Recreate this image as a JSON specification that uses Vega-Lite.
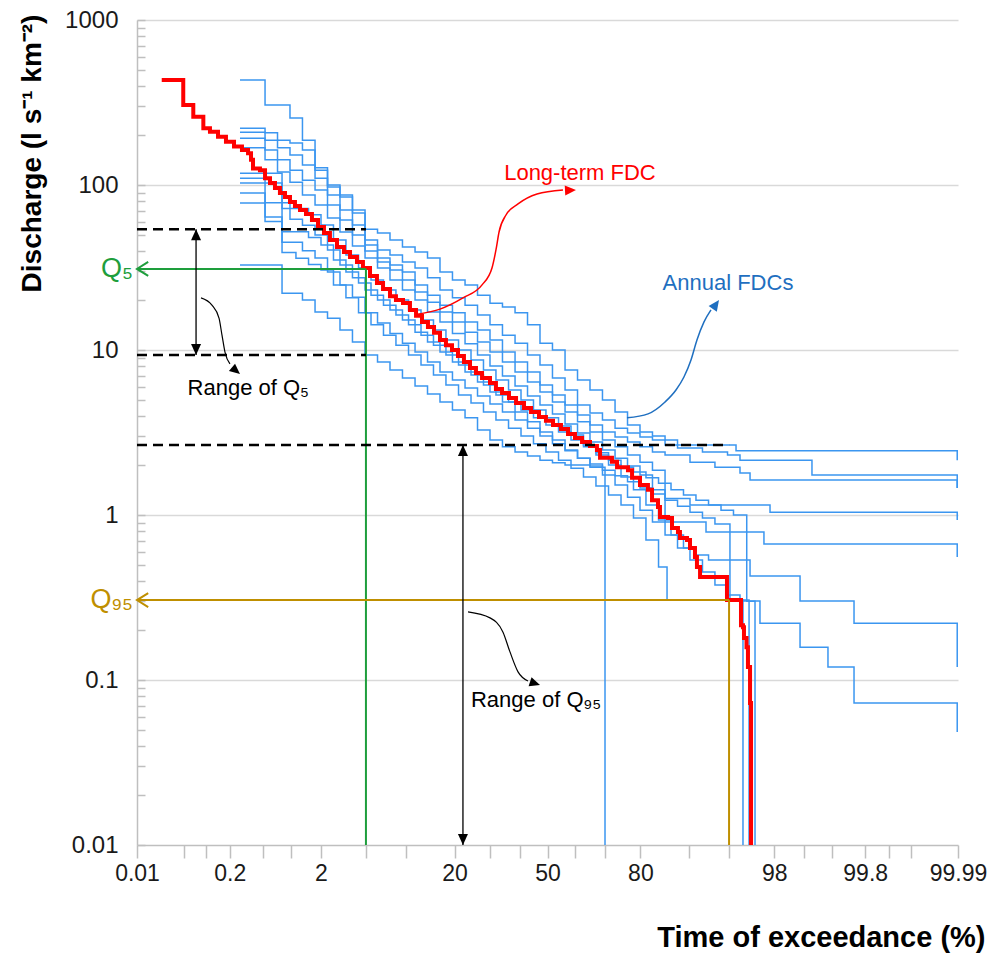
{
  "$schema": "https://vega.github.io/schema/vega-lite/v6.json",
  "width": 821,
  "height": 825,
  "autosize": "none",
  "padding": {"left": 137, "top": 20, "right": 45, "bottom": 109},
  "background": "white",
  "config": {"view": {"stroke": null}, "font": "Liberation Sans"},
  "datasets": {
    "annual": [
      {"year":1,"z":-2.786,"Q":433},{"year":1,"z":-2.559,"Q":305},{"year":1,"z":-2.333,"Q":255},{"year":1,"z":-2.22,"Q":187},{"year":1,"z":-2.106,"Q":127},{"year":1,"z":-1.993,"Q":97.2},{"year":1,"z":-1.88,"Q":87},{"year":1,"z":-1.767,"Q":67.6},{"year":1,"z":-1.653,"Q":54},{"year":1,"z":-1.54,"Q":51.2},{"year":1,"z":-1.427,"Q":46.4},{"year":1,"z":-1.314,"Q":42.1},{"year":1,"z":-1.2,"Q":39.3},{"year":1,"z":-1.087,"Q":36.1},{"year":1,"z":-0.974,"Q":29.7},{"year":1,"z":-0.861,"Q":26.6},{"year":1,"z":-0.747,"Q":24.8},{"year":1,"z":-0.634,"Q":21.5},{"year":1,"z":-0.521,"Q":19.2},{"year":1,"z":-0.408,"Q":18.2},{"year":1,"z":-0.294,"Q":16.8},{"year":1,"z":-0.181,"Q":14.2},{"year":1,"z":-0.068,"Q":11},{"year":1,"z":0.045,"Q":10},{"year":1,"z":0.159,"Q":7.57},{"year":1,"z":0.272,"Q":6.58},{"year":1,"z":0.385,"Q":5.72},{"year":1,"z":0.498,"Q":4.98},{"year":1,"z":0.612,"Q":4.21},{"year":1,"z":0.725,"Q":3.51},{"year":1,"z":0.838,"Q":3.18},{"year":1,"z":0.951,"Q":3.01},{"year":1,"z":1.065,"Q":2.85},{"year":1,"z":1.178,"Q":2.66},{"year":1,"z":1.708,"Q":2.45},{"year":1,"z":3.712,"Q":2.15},
      {"year":2,"z":-2.786,"Q":221},{"year":2,"z":-2.559,"Q":207},{"year":2,"z":-2.446,"Q":187},{"year":2,"z":-2.333,"Q":180},{"year":2,"z":-2.22,"Q":163},{"year":2,"z":-2.106,"Q":123},{"year":2,"z":-1.993,"Q":100},{"year":2,"z":-1.88,"Q":84.6},{"year":2,"z":-1.767,"Q":70.5},{"year":2,"z":-1.653,"Q":46.4},{"year":2,"z":-1.54,"Q":40.4},{"year":2,"z":-1.427,"Q":37.6},{"year":2,"z":-1.314,"Q":34.1},{"year":2,"z":-1.2,"Q":31.4},{"year":2,"z":-1.087,"Q":27.4},{"year":2,"z":-0.974,"Q":23.1},{"year":2,"z":-0.861,"Q":20.7},{"year":2,"z":-0.747,"Q":18.7},{"year":2,"z":-0.634,"Q":16.3},{"year":2,"z":-0.521,"Q":14.2},{"year":2,"z":-0.408,"Q":12.3},{"year":2,"z":-0.294,"Q":11},{"year":2,"z":-0.181,"Q":9.33},{"year":2,"z":-0.068,"Q":8.11},{"year":2,"z":0.045,"Q":6.77},{"year":2,"z":0.159,"Q":5.72},{"year":2,"z":0.272,"Q":4.64},{"year":2,"z":0.385,"Q":4.15},{"year":2,"z":0.498,"Q":3.77},{"year":2,"z":0.612,"Q":3.36},{"year":2,"z":0.725,"Q":3.14},{"year":2,"z":0.838,"Q":2.97},{"year":2,"z":0.951,"Q":2.85},{"year":2,"z":1.065,"Q":2.66},{"year":2,"z":1.178,"Q":2.55},{"year":2,"z":1.404,"Q":2.41},{"year":2,"z":1.631,"Q":2.31},{"year":2,"z":1.744,"Q":2.15},{"year":2,"z":2.396,"Q":1.75},{"year":2,"z":3.712,"Q":1.46},
      {"year":3,"z":-2.786,"Q":209},{"year":3,"z":-2.559,"Q":187},{"year":3,"z":-2.446,"Q":168},{"year":3,"z":-2.333,"Q":152},{"year":3,"z":-2.22,"Q":132},{"year":3,"z":-2.106,"Q":110},{"year":3,"z":-1.993,"Q":87},{"year":3,"z":-1.88,"Q":70.5},{"year":3,"z":-1.767,"Q":57.2},{"year":3,"z":-1.653,"Q":43.3},{"year":3,"z":-1.54,"Q":36.1},{"year":3,"z":-1.427,"Q":32.7},{"year":3,"z":-1.314,"Q":29.7},{"year":3,"z":-1.2,"Q":24.8},{"year":3,"z":-1.087,"Q":21.5},{"year":3,"z":-0.974,"Q":18.7},{"year":3,"z":-0.861,"Q":16.8},{"year":3,"z":-0.747,"Q":14.8},{"year":3,"z":-0.634,"Q":13.2},{"year":3,"z":-0.521,"Q":11.5},{"year":3,"z":-0.408,"Q":9.72},{"year":3,"z":-0.294,"Q":8.46},{"year":3,"z":-0.181,"Q":7.36},{"year":3,"z":-0.068,"Q":6.14},{"year":3,"z":0.045,"Q":5.34},{"year":3,"z":0.159,"Q":4.64},{"year":3,"z":0.272,"Q":4.04},{"year":3,"z":0.385,"Q":3.51},{"year":3,"z":0.498,"Q":3.18},{"year":3,"z":0.612,"Q":2.97},{"year":3,"z":0.725,"Q":2.77},{"year":3,"z":0.838,"Q":2.59},{"year":3,"z":0.951,"Q":2.41},{"year":3,"z":1.065,"Q":2.31},{"year":3,"z":1.291,"Q":2.09},{"year":3,"z":1.517,"Q":1.95},{"year":3,"z":1.744,"Q":1.8},{"year":3,"z":1.835,"Q":1.63},{"year":3,"z":3.712,"Q":1.46},
      {"year":4,"z":-2.786,"Q":192},{"year":4,"z":-2.559,"Q":163},{"year":4,"z":-2.446,"Q":142},{"year":4,"z":-2.333,"Q":123},{"year":4,"z":-2.22,"Q":107},{"year":4,"z":-2.106,"Q":93.3},{"year":4,"z":-1.993,"Q":75.7},{"year":4,"z":-1.88,"Q":61.4},{"year":4,"z":-1.767,"Q":49.8},{"year":4,"z":-1.653,"Q":39.8},{"year":4,"z":-1.54,"Q":34.1},{"year":4,"z":-1.427,"Q":30.5},{"year":4,"z":-1.314,"Q":26.6},{"year":4,"z":-1.2,"Q":22.5},{"year":4,"z":-1.087,"Q":19.5},{"year":4,"z":-0.974,"Q":17},{"year":4,"z":-0.861,"Q":14.8},{"year":4,"z":-0.747,"Q":12.8},{"year":4,"z":-0.634,"Q":11.2},{"year":4,"z":-0.521,"Q":9.72},{"year":4,"z":-0.408,"Q":8.46},{"year":4,"z":-0.294,"Q":7.36},{"year":4,"z":-0.181,"Q":6.4},{"year":4,"z":-0.068,"Q":5.56},{"year":4,"z":0.045,"Q":4.84},{"year":4,"z":0.159,"Q":4.21},{"year":4,"z":0.272,"Q":3.67},{"year":4,"z":0.385,"Q":3.18},{"year":4,"z":0.498,"Q":2.85},{"year":4,"z":0.612,"Q":2.59},{"year":4,"z":0.725,"Q":2.31},{"year":4,"z":0.838,"Q":2.09},{"year":4,"z":0.951,"Q":1.87},{"year":4,"z":1.065,"Q":1.26},{"year":4,"z":1.291,"Q":1.15},{"year":4,"z":2.016,"Q":1.04},{"year":4,"z":3.712,"Q":0.933},
      {"year":5,"z":-2.786,"Q":168},{"year":5,"z":-2.559,"Q":142},{"year":5,"z":-2.446,"Q":120},{"year":5,"z":-2.333,"Q":104},{"year":5,"z":-2.22,"Q":87},{"year":5,"z":-2.106,"Q":75.7},{"year":5,"z":-1.993,"Q":63.1},{"year":5,"z":-1.88,"Q":51.9},{"year":5,"z":-1.767,"Q":42.7},{"year":5,"z":-1.653,"Q":36.1},{"year":5,"z":-1.54,"Q":31.4},{"year":5,"z":-1.427,"Q":26.6},{"year":5,"z":-1.314,"Q":23.1},{"year":5,"z":-1.2,"Q":20.1},{"year":5,"z":-1.087,"Q":17},{"year":5,"z":-0.974,"Q":14.8},{"year":5,"z":-0.861,"Q":12.6},{"year":5,"z":-0.747,"Q":10.9},{"year":5,"z":-0.634,"Q":9.33},{"year":5,"z":-0.521,"Q":8},{"year":5,"z":-0.408,"Q":6.95},{"year":5,"z":-0.294,"Q":6.05},{"year":5,"z":-0.181,"Q":5.27},{"year":5,"z":-0.068,"Q":4.64},{"year":5,"z":0.045,"Q":4.1},{"year":5,"z":0.159,"Q":3.56},{"year":5,"z":0.272,"Q":3.14},{"year":5,"z":0.385,"Q":2.77},{"year":5,"z":0.498,"Q":2.48},{"year":5,"z":0.612,"Q":2.21},{"year":5,"z":0.725,"Q":1.98},{"year":5,"z":0.838,"Q":1.75},{"year":5,"z":0.951,"Q":1.42},{"year":5,"z":1.065,"Q":0.907},{"year":5,"z":1.436,"Q":0.789},{"year":5,"z":1.961,"Q":0.667},{"year":5,"z":3.712,"Q":0.556},
      {"year":6,"z":-2.786,"Q":118},{"year":6,"z":-2.405,"Q":72},{"year":6,"z":-2.165,"Q":66},{"year":6,"z":-2.052,"Q":57.2},{"year":6,"z":-1.939,"Q":46.4},{"year":6,"z":-1.826,"Q":37.6},{"year":6,"z":-1.712,"Q":31.4},{"year":6,"z":-1.599,"Q":26.6},{"year":6,"z":-1.486,"Q":23.1},{"year":6,"z":-1.373,"Q":20.1},{"year":6,"z":-1.259,"Q":17.5},{"year":6,"z":-1.146,"Q":15.2},{"year":6,"z":-1.033,"Q":13.2},{"year":6,"z":-0.92,"Q":11.5},{"year":6,"z":-0.806,"Q":10},{"year":6,"z":-0.693,"Q":8.7},{"year":6,"z":-0.58,"Q":7.57},{"year":6,"z":-0.467,"Q":6.58},{"year":6,"z":-0.353,"Q":5.72},{"year":6,"z":-0.24,"Q":4.98},{"year":6,"z":-0.127,"Q":4.33},{"year":6,"z":-0.014,"Q":3.88},{"year":6,"z":0.1,"Q":3.46},{"year":6,"z":0.213,"Q":3.05},{"year":6,"z":0.326,"Q":2.66},{"year":6,"z":0.439,"Q":2.31},{"year":6,"z":0.553,"Q":2.01},{"year":6,"z":0.666,"Q":1.7},{"year":6,"z":0.779,"Q":1.42},{"year":6,"z":0.892,"Q":1.15},{"year":6,"z":1.006,"Q":0.933},{"year":6,"z":1.119,"Q":0.757},{"year":6,"z":1.232,"Q":0.631},{"year":6,"z":1.345,"Q":0.572},{"year":6,"z":1.459,"Q":0.534},{"year":6,"z":1.835,"Q":0.427},{"year":6,"z":2.288,"Q":0.301},{"year":6,"z":2.777,"Q":0.221},{"year":6,"z":3.712,"Q":0.12},
      {"year":7,"z":-2.786,"Q":110},{"year":7,"z":-2.559,"Q":78},{"year":7,"z":-2.333,"Q":62},{"year":7,"z":-2.22,"Q":57},{"year":7,"z":-2.106,"Q":49.8},{"year":7,"z":-1.993,"Q":40.4},{"year":7,"z":-1.88,"Q":32.7},{"year":7,"z":-1.767,"Q":27.4},{"year":7,"z":-1.653,"Q":23.1},{"year":7,"z":-1.54,"Q":20.1},{"year":7,"z":-1.427,"Q":17.5},{"year":7,"z":-1.314,"Q":15.2},{"year":7,"z":-1.2,"Q":12.8},{"year":7,"z":-1.087,"Q":11.2},{"year":7,"z":-0.974,"Q":9.72},{"year":7,"z":-0.861,"Q":8.46},{"year":7,"z":-0.747,"Q":7.36},{"year":7,"z":-0.634,"Q":6.4},{"year":7,"z":-0.521,"Q":5.56},{"year":7,"z":-0.408,"Q":4.84},{"year":7,"z":-0.294,"Q":4.21},{"year":7,"z":-0.181,"Q":3.67},{"year":7,"z":-0.068,"Q":3.18},{"year":7,"z":0.045,"Q":2.85},{"year":7,"z":0.159,"Q":2.48},{"year":7,"z":0.272,"Q":2.21},{"year":7,"z":0.385,"Q":1.98},{"year":7,"z":0.498,"Q":1.75},{"year":7,"z":0.612,"Q":1.52},{"year":7,"z":0.725,"Q":1.28},{"year":7,"z":0.838,"Q":1.07},{"year":7,"z":0.951,"Q":0.907},{"year":7,"z":1.065,"Q":0.757},{"year":7,"z":1.178,"Q":0.631},{"year":7,"z":1.291,"Q":0.534},{"year":7,"z":1.404,"Q":0.451},{"year":7,"z":1.517,"Q":0.376},{"year":7,"z":1.631,"Q":0.327},{"year":7,"z":1.744,"Q":0.301},{"year":7,"z":1.925,"Q":0.221},{"year":7,"z":2.288,"Q":0.158},{"year":7,"z":2.541,"Q":0.12},{"year":7,"z":2.777,"Q":0.0725},{"year":7,"z":3.712,"Q":0.0484},
      {"year":8,"z":-2.786,"Q":103},{"year":8,"z":-2.405,"Q":52},{"year":8,"z":-2.165,"Q":48},{"year":8,"z":-2.052,"Q":43.3},{"year":8,"z":-1.939,"Q":35.1},{"year":8,"z":-1.826,"Q":29.7},{"year":8,"z":-1.712,"Q":25.5},{"year":8,"z":-1.599,"Q":21.5},{"year":8,"z":-1.486,"Q":18.7},{"year":8,"z":-1.373,"Q":16.3},{"year":8,"z":-1.259,"Q":14.2},{"year":8,"z":-1.146,"Q":12.3},{"year":8,"z":-1.033,"Q":10.7},{"year":8,"z":-0.92,"Q":9.33},{"year":8,"z":-0.806,"Q":8.11},{"year":8,"z":-0.693,"Q":7.05},{"year":8,"z":-0.58,"Q":6.14},{"year":8,"z":-0.467,"Q":5.34},{"year":8,"z":-0.353,"Q":4.84},{"year":8,"z":-0.24,"Q":4.33},{"year":8,"z":-0.127,"Q":3.88},{"year":8,"z":-0.014,"Q":3.51},{"year":8,"z":0.1,"Q":3.18},{"year":8,"z":0.213,"Q":2.85},{"year":8,"z":0.326,"Q":2.59},{"year":8,"z":0.439,"Q":2.38},{"year":8,"z":0.553,"Q":2.15},{"year":8,"z":0.666,"Q":1.95},{"year":8,"z":0.779,"Q":1.82},{"year":8,"z":0.892,"Q":1.68},{"year":8,"z":1.006,"Q":1.56},{"year":8,"z":1.119,"Q":1.42},{"year":8,"z":1.232,"Q":1.32},{"year":8,"z":1.345,"Q":1.23},{"year":8,"z":1.459,"Q":1.15},{"year":8,"z":1.572,"Q":1.07},{"year":8,"z":1.685,"Q":1},{"year":8,"z":1.805,"Q":0.3},{"year":8,"z":1.88,"Q":0.005},
      {"year":9,"z":-2.786,"Q":89.5},{"year":9,"z":-2.559,"Q":64},{"year":9,"z":-2.405,"Q":45},{"year":9,"z":-2.22,"Q":40},{"year":9,"z":-2.106,"Q":36.1},{"year":9,"z":-1.993,"Q":29.7},{"year":9,"z":-1.88,"Q":24.8},{"year":9,"z":-1.767,"Q":20.9},{"year":9,"z":-1.653,"Q":16.8},{"year":9,"z":-1.54,"Q":14.6},{"year":9,"z":-1.427,"Q":12.6},{"year":9,"z":-1.314,"Q":11},{"year":9,"z":-1.2,"Q":9.72},{"year":9,"z":-1.087,"Q":8.46},{"year":9,"z":-0.974,"Q":7.36},{"year":9,"z":-0.861,"Q":6.58},{"year":9,"z":-0.747,"Q":5.88},{"year":9,"z":-0.634,"Q":5.27},{"year":9,"z":-0.521,"Q":4.71},{"year":9,"z":-0.408,"Q":4.21},{"year":9,"z":-0.294,"Q":3.77},{"year":9,"z":-0.181,"Q":3.36},{"year":9,"z":-0.068,"Q":3.01},{"year":9,"z":0.045,"Q":2.7},{"year":9,"z":0.159,"Q":2.45},{"year":9,"z":0.272,"Q":2.21},{"year":9,"z":0.385,"Q":2.04},{"year":9,"z":0.498,"Q":1.87},{"year":9,"z":0.612,"Q":1.73},{"year":9,"z":0.725,"Q":1.59},{"year":9,"z":0.838,"Q":1.46},{"year":9,"z":0.951,"Q":1.34},{"year":9,"z":1.065,"Q":1.23},{"year":9,"z":1.178,"Q":1.13},{"year":9,"z":1.291,"Q":1.04},{"year":9,"z":1.404,"Q":0.959},{"year":9,"z":1.517,"Q":0.882},{"year":9,"z":1.653,"Q":0.305},{"year":9,"z":1.826,"Q":0.005},
      {"year":10,"z":-2.786,"Q":77.8},{"year":10,"z":-2.559,"Q":60},{"year":10,"z":-2.405,"Q":39},{"year":10,"z":-2.279,"Q":36},{"year":10,"z":-2.165,"Q":33},{"year":10,"z":-2.052,"Q":30.5},{"year":10,"z":-1.939,"Q":24.8},{"year":10,"z":-1.826,"Q":20.7},{"year":10,"z":-1.712,"Q":16.8},{"year":10,"z":-1.599,"Q":14.2},{"year":10,"z":-1.486,"Q":12.3},{"year":10,"z":-1.373,"Q":10.7},{"year":10,"z":-1.259,"Q":9.33},{"year":10,"z":-1.146,"Q":8.11},{"year":10,"z":-1.033,"Q":7.05},{"year":10,"z":-0.92,"Q":6.14},{"year":10,"z":-0.806,"Q":5.34},{"year":10,"z":-0.693,"Q":4.77},{"year":10,"z":-0.58,"Q":4.21},{"year":10,"z":-0.467,"Q":3.77},{"year":10,"z":-0.353,"Q":3.36},{"year":10,"z":-0.24,"Q":3.01},{"year":10,"z":-0.127,"Q":2.7},{"year":10,"z":-0.014,"Q":2.41},{"year":10,"z":0.1,"Q":2.15},{"year":10,"z":0.213,"Q":1.92},{"year":10,"z":0.326,"Q":1.7},{"year":10,"z":0.439,"Q":1.5},{"year":10,"z":0.553,"Q":1.32},{"year":10,"z":0.666,"Q":1.15},{"year":10,"z":0.779,"Q":0.959},{"year":10,"z":0.892,"Q":0.705},{"year":10,"z":1.006,"Q":0.484},{"year":10,"z":1.083,"Q":0.305},{"year":10,"z":1.771,"Q":0.005},
      {"year":11,"z":-2.786,"Q":32.7},{"year":11,"z":-2.405,"Q":22.1},{"year":11,"z":-2.22,"Q":20.1},{"year":11,"z":-2.106,"Q":17},{"year":11,"z":-1.993,"Q":15.6},{"year":11,"z":-1.88,"Q":13.2},{"year":11,"z":-1.767,"Q":11.2},{"year":11,"z":-1.653,"Q":9.33},{"year":11,"z":-1.54,"Q":8.46},{"year":11,"z":-1.427,"Q":7.57},{"year":11,"z":-1.314,"Q":6.77},{"year":11,"z":-1.2,"Q":6.05},{"year":11,"z":-1.087,"Q":5.41},{"year":11,"z":-0.974,"Q":4.84},{"year":11,"z":-0.861,"Q":4.33},{"year":11,"z":-0.747,"Q":3.88},{"year":11,"z":-0.634,"Q":3.27},{"year":11,"z":-0.521,"Q":2.85},{"year":11,"z":-0.408,"Q":2.59},{"year":11,"z":-0.294,"Q":2.41},{"year":11,"z":-0.181,"Q":2.28},{"year":11,"z":-0.068,"Q":2.15},{"year":11,"z":0.045,"Q":2.07},{"year":11,"z":0.159,"Q":2.01},{"year":11,"z":0.385,"Q":1.95},{"year":11,"z":0.521,"Q":0.005}
    ],
    "longterm": [
      {"z":-3.495,"Q":433},{"z":-3.3,"Q":305},{"z":-3.209,"Q":259},{"z":-3.118,"Q":221},{"z":-3.058,"Q":210},{"z":-2.985,"Q":196},{"z":-2.913,"Q":183},{"z":-2.84,"Q":171},{"z":-2.768,"Q":163},{"z":-2.713,"Q":156},{"z":-2.686,"Q":142},{"z":-2.668,"Q":126},{"z":-2.605,"Q":123},{"z":-2.559,"Q":110},{"z":-2.514,"Q":103},{"z":-2.469,"Q":95.9},{"z":-2.424,"Q":89.5},{"z":-2.378,"Q":84.6},{"z":-2.333,"Q":78.9},{"z":-2.288,"Q":74.6},{"z":-2.242,"Q":70.6},{"z":-2.188,"Q":66.7},{"z":-2.134,"Q":61.4},{"z":-2.079,"Q":55.7},{"z":-2.025,"Q":51.2},{"z":-1.971,"Q":46.4},{"z":-1.907,"Q":42.1},{"z":-1.844,"Q":39.3},{"z":-1.789,"Q":36.6},{"z":-1.726,"Q":34.1},{"z":-1.672,"Q":31.4},{"z":-1.608,"Q":28.1},{"z":-1.545,"Q":25.5},{"z":-1.49,"Q":23.4},{"z":-1.427,"Q":21.2},{"z":-1.373,"Q":20.1},{"z":-1.309,"Q":19.3},{"z":-1.246,"Q":17.5},{"z":-1.191,"Q":16.1},{"z":-1.137,"Q":14.8},{"z":-1.083,"Q":13.8},{"z":-1.028,"Q":12.7},{"z":-0.974,"Q":11.5},{"z":-0.92,"Q":10.7},{"z":-0.865,"Q":10},{"z":-0.811,"Q":9.2},{"z":-0.757,"Q":8.45},{"z":-0.702,"Q":7.78},{"z":-0.648,"Q":7.26},{"z":-0.593,"Q":6.76},{"z":-0.521,"Q":6.31},{"z":-0.467,"Q":5.8},{"z":-0.412,"Q":5.49},{"z":-0.349,"Q":5.12},{"z":-0.285,"Q":4.78},{"z":-0.213,"Q":4.45},{"z":-0.149,"Q":4.21},{"z":-0.077,"Q":3.93},{"z":-0.014,"Q":3.72},{"z":0.05,"Q":3.51},{"z":0.122,"Q":3.32},{"z":0.186,"Q":3.1},{"z":0.249,"Q":2.93},{"z":0.313,"Q":2.77},{"z":0.385,"Q":2.62},{"z":0.448,"Q":2.48},{"z":0.476,"Q":2.22},{"z":0.584,"Q":2.1},{"z":0.63,"Q":1.95},{"z":0.729,"Q":1.87},{"z":0.766,"Q":1.68},{"z":0.838,"Q":1.52},{"z":0.91,"Q":1.42},{"z":0.947,"Q":1.23},{"z":1.001,"Q":1.12},{"z":1.019,"Q":0.973},{"z":1.092,"Q":0.959},{"z":1.128,"Q":0.834},{"z":1.182,"Q":0.789},{"z":1.2,"Q":0.726},{"z":1.264,"Q":0.706},{"z":1.291,"Q":0.631},{"z":1.336,"Q":0.557},{"z":1.354,"Q":0.484},{"z":1.382,"Q":0.421},{"z":1.626,"Q":0.305},{"z":1.753,"Q":0.215},{"z":1.771,"Q":0.209},{"z":1.78,"Q":0.18},{"z":1.803,"Q":0.158},{"z":1.816,"Q":0.12},{"z":1.835,"Q":0.0726},{"z":1.844,"Q":0.005}
    ],
    "q5lines": [
      {"z":-3.719016,"z2":-1.644854,"Q":31,"Q2":31},
      {"z":-1.644854,"z2":-1.644854,"Q":31,"Q2":0.01}
    ],
    "q95lines": [
      {"z":-3.719016,"z2":1.644854,"Q":0.305,"Q2":0.305},
      {"z":1.644854,"z2":1.644854,"Q":0.305,"Q2":0.01}
    ],
    "dashes": [
      {"z":-3.719016,"z2":-1.644854,"Q":54,"Q2":54},
      {"z":-3.719016,"z2":-1.644854,"Q":9.33,"Q2":9.33},
      {"z":-3.719016,"z2":1.644854,"Q":2.66,"Q2":2.66}
    ],
    "ranges": [
      {"z":-3.184,"z2":-3.184,"Q":54,"Q2":9.33},
      {"z":-0.766,"z2":-0.766,"Q":2.66,"Q2":0.01}
    ],
    "rangeTops": [{"z":-3.184,"Q":54},{"z":-0.766,"Q":2.66}],
    "rangeBottoms": [{"z":-3.184,"Q":9.33},{"z":-0.766,"Q":0.01}],
    "q5tip": [{"z":-3.719016,"Q":31}],
    "q95tip": [{"z":-3.719016,"Q":0.305}],
    "blackCurves": [
      {"id":"a","z":-3.139,"Q":20.7},{"id":"a","z":-3.04,"Q":18.7},{"id":"a","z":-2.976,"Q":15.6},{"id":"a","z":-2.949,"Q":12.3},{"id":"a","z":-2.922,"Q":9.72},{"id":"a","z":-2.877,"Q":8.23},
      {"id":"b","z":-0.72,"Q":0.259},{"id":"b","z":-0.521,"Q":0.238},{"id":"b","z":-0.403,"Q":0.195},{"id":"b","z":-0.34,"Q":0.148},{"id":"b","z":-0.267,"Q":0.112},{"id":"b","z":-0.177,"Q":0.0986}
    ],
    "blackHeadA": [{"z":-2.786,"Q":7.15}],
    "blackHeadB": [{"z":-0.068,"Q":0.0933}],
    "redCurve": [
      {"z":-1.173,"Q":16.5},{"z":-0.974,"Q":17.7},{"z":-0.766,"Q":20.7},{"z":-0.593,"Q":24.8},{"z":-0.503,"Q":31.4},{"z":-0.467,"Q":40.4},{"z":-0.439,"Q":51.9},{"z":-0.376,"Q":65.8},{"z":-0.267,"Q":76.8},{"z":-0.095,"Q":88.2},{"z":0.14,"Q":93.3}
    ],
    "redHead": [{"z":0.258,"Q":93.3}],
    "blueCurve": [
      {"z":0.72,"Q":3.88},{"z":0.911,"Q":4.1},{"z":1.065,"Q":4.84},{"z":1.164,"Q":5.72},{"z":1.236,"Q":6.86},{"z":1.3,"Q":8.7},{"z":1.354,"Q":11.5},{"z":1.418,"Q":14.8},{"z":1.481,"Q":17.5}
    ],
    "blueHead": [{"z":1.554,"Q":20.1}],
    "blackTexts": [
      {"z":-2.711,"Q":5.88,"label":"Range of Q₅"},
      {"z":-0.104,"Q":0.0757,"label":"Range of Q₉₅"}
    ],
    "q5text": [{"z":-3.719016,"Q":31,"label":"Q₅"}],
    "q95text": [{"z":-3.719016,"Q":0.305,"label":"Q₉₅"}],
    "redText": [{"z":0.294,"Q":118.8,"label":"Long-term FDC"}],
    "blueText": [{"z":1.635,"Q":25.5,"label":"Annual FDCs"}]
  },
  "encoding": {
    "x": {
      "field": "z", "type": "quantitative",
      "scale": {"domain": [-3.719016, 3.719016], "nice": false, "zero": false},
      "axis": {
        "title": "Time of exceedance (%)",
        "values": [-3.719016,-3.290527,-3.090232,-2.878162,-2.575829,-2.326348,-2.053749,-1.644854,-1.281552,-0.841621,-0.524401,-0.253347,0,0.253347,0.524401,0.841621,1.281552,1.644854,2.053749,2.326348,2.575829,2.878162,3.090232,3.290527,3.719016],
        "labelExpr": "indexof([0.01,0.2,2,20,50,80,98,99.8,99.99], round(cumulativeNormal(datum.value)*10000)/100) >= 0 ? format(round(cumulativeNormal(datum.value)*10000)/100, '~r') : ''",
        "grid": false,
        "domainColor": "#bfbfbf", "domainWidth": 1.5,
        "tickColor": "#bfbfbf", "tickWidth": 1.5, "tickSize": 13,
        "labelFont": "Liberation Sans", "labelFontSize": 23, "labelColor": "#1a1a1a",
        "labelPadding": 4, "labelOverlap": false, "labelFlush": false, "labelBound": false,
        "titleFont": "Liberation Sans", "titleFontSize": 29, "titleFontWeight": "bold", "titleColor": "#000000",
        "titleX": 848, "titleY": 101, "titleAlign": "right", "titleBaseline": "alphabetic"
      }
    },
    "y": {
      "field": "Q", "type": "quantitative",
      "scale": {"type": "log", "domain": [0.01, 1000], "nice": false},
      "axis": {
        "title": "Discharge (l s⁻¹ km⁻²)",
        "values": [0.01,0.02,0.03,0.04,0.05,0.06,0.07,0.08,0.09,0.1,0.2,0.3,0.4,0.5,0.6,0.7,0.8,0.9,1,2,3,4,5,6,7,8,9,10,20,30,40,50,60,70,80,90,100,200,300,400,500,600,700,800,900,1000],
        "labelExpr": "indexof([0.01,0.1,1,10,100,1000], datum.value) >= 0 ? format(datum.value, '~g') : ''",
        "grid": true,
        "gridColor": "#d9d9d9", "gridWidth": 1.5,
        "gridOpacity": {"condition": {"test": "indexof([0.1,1,10,100,1000], datum.value) >= 0", "value": 1}, "value": 0},
        "domainColor": "#bfbfbf", "domainWidth": 1.5,
        "tickColor": "#bfbfbf", "tickWidth": 1.5, "tickSize": -8,
        "labelFont": "Liberation Sans", "labelFontSize": 24, "labelColor": "#1a1a1a",
        "labelPadding": 27, "labelOverlap": false, "labelFlush": false, "labelBound": false,
        "titleFont": "Liberation Sans", "titleFontSize": 28, "titleFontWeight": "bold", "titleColor": "#000000",
        "titleAngle": -90, "titleX": -97, "titleY": 133, "titleAlign": "center", "titleBaseline": "alphabetic"
      }
    }
  },
  "layer": [
    {"data": {"name": "annual"}, "mark": {"type": "line", "interpolate": "step-after", "color": "#3b96f0", "strokeWidth": 1.5, "clip": true}, "encoding": {"detail": {"field": "year", "type": "nominal"}}},
    {"data": {"name": "longterm"}, "mark": {"type": "line", "interpolate": "step-after", "color": "#ff0000", "strokeWidth": 4, "clip": true}},
    {"data": {"name": "q5lines"}, "mark": {"type": "rule", "color": "#1e9e3c", "strokeWidth": 2}, "encoding": {"x2": {"field": "z2"}, "y2": {"field": "Q2"}}},
    {"data": {"name": "q95lines"}, "mark": {"type": "rule", "color": "#bf8f00", "strokeWidth": 2}, "encoding": {"x2": {"field": "z2"}, "y2": {"field": "Q2"}}},
    {"data": {"name": "dashes"}, "mark": {"type": "rule", "color": "#000000", "strokeWidth": 2.5, "strokeDash": [10, 6]}, "encoding": {"x2": {"field": "z2"}, "y2": {"field": "Q2"}}},
    {"data": {"name": "ranges"}, "mark": {"type": "rule", "color": "#000000", "strokeWidth": 1.3}, "encoding": {"x2": {"field": "z2"}, "y2": {"field": "Q2"}}},
    {"data": {"name": "rangeTops"}, "mark": {"type": "point", "shape": "M0,0L-1,2.2L1,2.2Z", "size": 100, "filled": true, "color": "#000000", "opacity": 1}},
    {"data": {"name": "rangeBottoms"}, "mark": {"type": "point", "shape": "M0,0L-1,-2.2L1,-2.2Z", "size": 100, "filled": true, "color": "#000000", "opacity": 1}},
    {"data": {"name": "q5tip"}, "mark": {"type": "point", "shape": "M1.6,-1L0,0L1.6,1", "size": 196, "filled": false, "color": "#1e9e3c", "strokeWidth": 2, "opacity": 1}},
    {"data": {"name": "q95tip"}, "mark": {"type": "point", "shape": "M1.6,-1L0,0L1.6,1", "size": 196, "filled": false, "color": "#bf8f00", "strokeWidth": 2, "opacity": 1}},
    {"data": {"name": "blackCurves"}, "mark": {"type": "line", "interpolate": "monotone", "color": "#000000", "strokeWidth": 1.2}, "encoding": {"detail": {"field": "id", "type": "nominal"}}},
    {"data": {"name": "blackHeadA"}, "mark": {"type": "point", "shape": "M0,0L-2.2,-1L-2.2,1Z", "size": 90, "filled": true, "color": "#000000", "angle": 40, "opacity": 1}},
    {"data": {"name": "blackHeadB"}, "mark": {"type": "point", "shape": "M0,0L-2.2,-1L-2.2,1Z", "size": 90, "filled": true, "color": "#000000", "angle": 18, "opacity": 1}},
    {"data": {"name": "redCurve"}, "mark": {"type": "line", "interpolate": "monotone", "color": "#ff0000", "strokeWidth": 1.5}},
    {"data": {"name": "redHead"}, "mark": {"type": "point", "shape": "M0,0L-2.2,-1L-2.2,1Z", "size": 100, "filled": true, "color": "#ff0000", "angle": -3, "opacity": 1}},
    {"data": {"name": "blueCurve"}, "mark": {"type": "line", "interpolate": "monotone", "color": "#1f6fc0", "strokeWidth": 1.5}},
    {"data": {"name": "blueHead"}, "mark": {"type": "point", "shape": "M0,0L-2.2,-1L-2.2,1Z", "size": 100, "filled": true, "color": "#1f6fc0", "angle": -55, "opacity": 1}},
    {"data": {"name": "blackTexts"}, "mark": {"type": "text", "font": "Liberation Sans", "fontSize": 22, "color": "#000000", "align": "center", "baseline": "middle"}, "encoding": {"text": {"field": "label"}}},
    {"data": {"name": "q5text"}, "mark": {"type": "text", "font": "Liberation Sans", "fontSize": 27, "color": "#1e9e3c", "align": "right", "baseline": "middle", "dx": -4}, "encoding": {"text": {"field": "label"}}},
    {"data": {"name": "q95text"}, "mark": {"type": "text", "font": "Liberation Sans", "fontSize": 27, "color": "#bf8f00", "align": "right", "baseline": "middle", "dx": -4}, "encoding": {"text": {"field": "label"}}},
    {"data": {"name": "redText"}, "mark": {"type": "text", "font": "Liberation Sans", "fontSize": 22, "color": "#ff0000", "align": "center", "baseline": "middle"}, "encoding": {"text": {"field": "label"}}},
    {"data": {"name": "blueText"}, "mark": {"type": "text", "font": "Liberation Sans", "fontSize": 22, "color": "#1f6fc0", "align": "center", "baseline": "middle"}, "encoding": {"text": {"field": "label"}}}
  ]
}
